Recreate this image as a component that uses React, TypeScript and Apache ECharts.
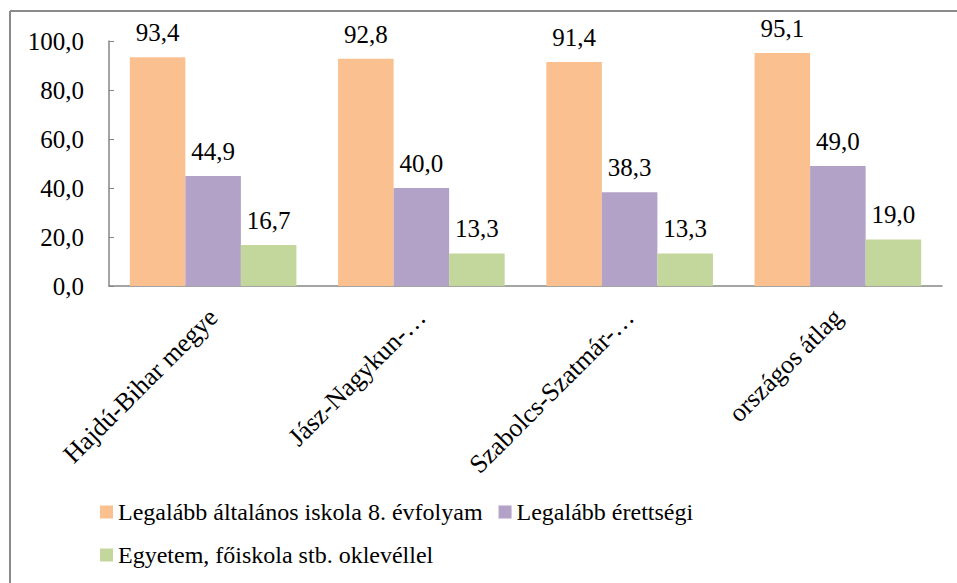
import React, { useEffect, useRef } from "react";
import * as echarts from "echarts";

const categories = ["Hajdú-Bihar megye", "Jász-Nagykun-…", "Szabolcs-Szatmár-…", "országos átlag"];
const seriesNames = [
  "Legalább általános iskola 8. évfolyam",
  "Legalább érettségi",
  "Egyetem, főiskola stb. oklevéllel",
];
const elementary = [93.4, 92.8, 91.4, 95.1];
const matura = [44.9, 40.0, 38.3, 49.0];
const degree = [16.7, 13.3, 13.3, 19.0];
const colors = ["#FAC090", "#B3A2C7", "#C3D69B"];

const FONT = "Times New Roman";
const fmt = (v: number) => v.toFixed(1).replace(".", ",");

export default function App() {
  const ref = useRef<HTMLDivElement>(null);
  useEffect(() => {
    if (!ref.current) return;
    const chart = echarts.init(ref.current, null, { renderer: "svg" });
    const values = [elementary, matura, degree];
    chart.setOption({
      animation: false,
      backgroundColor: "#ffffff",
      textStyle: { fontFamily: FONT, color: "#000" },
      grid: { left: 109, right: 15, top: 41, bottom: 297, containLabel: false },
      legend: [
        {
          data: [seriesNames[0], seriesNames[1]],
          left: 95,
          top: 495,
          icon: "rect",
          itemWidth: 13,
          itemHeight: 13,
          itemGap: 16,
          textStyle: { fontFamily: FONT, fontSize: 24, color: "#000" },
        },
        {
          data: [seriesNames[2]],
          left: 95,
          top: 538,
          icon: "rect",
          itemWidth: 13,
          itemHeight: 13,
          textStyle: { fontFamily: FONT, fontSize: 24, color: "#000" },
        },
      ],
      xAxis: {
        type: "category",
        data: categories,
        axisLine: { lineStyle: { color: "#868686", width: 1.5 } },
        axisTick: { show: false },
        axisLabel: {
          rotate: 45,
          interval: 0,
          margin: 27,
          fontFamily: FONT,
          fontSize: 26,
          color: "#000",
        },
      },
      yAxis: {
        type: "value",
        min: 0,
        max: 100,
        interval: 20,
        axisLine: { show: true, lineStyle: { color: "#868686", width: 1.5 } },
        axisTick: { show: true, inside: true, length: 5, lineStyle: { color: "#868686" } },
        splitLine: { show: false },
        axisLabel: {
          margin: 25,
          fontFamily: FONT,
          fontSize: 25,
          color: "#000",
          formatter: (v: number) => fmt(v),
        },
      },
      series: seriesNames.map((name, i) => ({
        name,
        type: "bar",
        data: values[i],
        barGap: "0%",
        barCategoryGap: "20%",
        itemStyle: { color: colors[i] },
        label: {
          show: true,
          position: "top",
          distance: 12,
          fontFamily: FONT,
          fontSize: 25,
          color: "#000",
          formatter: (p: any) => fmt(p.value),
        },
      })),
      graphic: [
        {
          type: "line",
          shape: { x1: 10, y1: 11, x2: 957, y2: 11 },
          style: { stroke: "#8a8a8a", lineWidth: 2 },
        },
        {
          type: "line",
          shape: { x1: 10, y1: 11, x2: 10, y2: 583 },
          style: { stroke: "#8a8a8a", lineWidth: 2 },
        },
      ],
    });
    return () => chart.dispose();
  }, []);
  return (
    <div
      ref={ref}
      style={{ position: "fixed", left: 0, top: 0, width: 957, height: 583 }}
    />
  );
}
